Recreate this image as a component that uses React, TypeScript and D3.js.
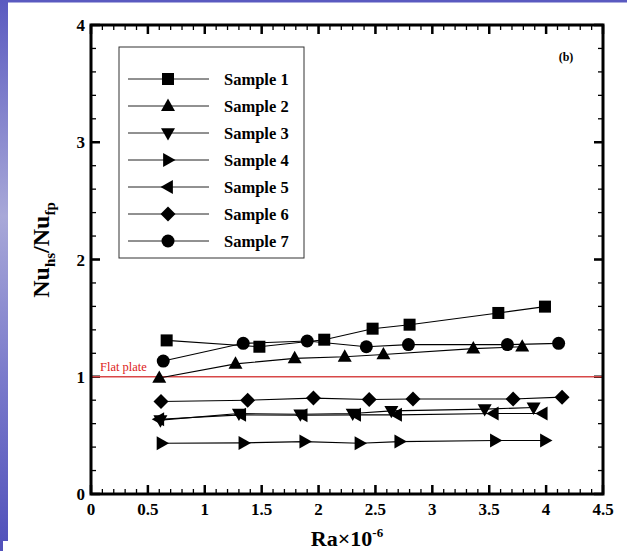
import React from "react";
import * as d3 from "d3";

const seriesNames = ["Sample 1", "Sample 2", "Sample 3", "Sample 4", "Sample 5", "Sample 6", "Sample 7"];
const markerKinds = ["square", "up", "down", "right", "left", "diamond", "circle"];

const s1x = [0.665, 1.48, 2.05, 2.475, 2.8, 3.58, 3.99];
const s1y = [1.31, 1.256, 1.316, 1.41, 1.444, 1.544, 1.598];
const s2x = [0.6, 1.27, 1.79, 2.23, 2.57, 3.36, 3.79];
const s2y = [0.99, 1.11, 1.157, 1.17, 1.19, 1.24, 1.256];
const s3x = [0.61, 1.3, 1.84, 2.3, 2.64, 3.46, 3.89];
const s3y = [0.63, 0.686, 0.68, 0.686, 0.709, 0.724, 0.738];
const s4x = [0.62, 1.34, 1.875, 2.36, 2.71, 3.55, 3.99];
const s4y = [0.433, 0.436, 0.447, 0.433, 0.447, 0.456, 0.456];
const s5x = [0.6, 1.32, 1.86, 2.33, 2.69, 3.54, 3.97];
const s5y = [0.638, 0.675, 0.672, 0.675, 0.675, 0.686, 0.686];
const s6x = [0.615, 1.377, 1.955, 2.445, 2.83, 3.71, 4.14];
const s6y = [0.789, 0.8, 0.818, 0.806, 0.81, 0.81, 0.826];
const s7x = [0.635, 1.338, 1.9, 2.42, 2.79, 3.66, 4.11];
const s7y = [1.134, 1.285, 1.305, 1.256, 1.274, 1.274, 1.285];

const seriesX = [s1x, s2x, s3x, s4x, s5x, s6x, s7x];
const seriesY = [s1y, s2y, s3y, s4y, s5y, s6y, s7y];

const xTicks = [0, 0.5, 1, 1.5, 2, 2.5, 3, 3.5, 4, 4.5];
const xTickLabels = ["0", "0.5", "1", "1.5", "2", "2.5", "3", "3.5", "4", "4.5"];
const yTicks = [0, 1, 2, 3, 4];
const yTickLabels = ["0", "1", "2", "3", "4"];
const flatPlateValue = 1;

const W = 627, H = 551;
const L = 91, R = 603, T = 25, B = 494;
const FONT = "'Liberation Serif', 'Times New Roman', serif";

function Marker({ kind, x, y }: { kind: string; x: number; y: number }) {
  const s = 6.5;
  if (kind === "square") return <rect x={x - 6} y={y - 6} width={12} height={12} fill="#000" />;
  if (kind === "circle") return <circle cx={x} cy={y} r={6.5} fill="#000" />;
  if (kind === "diamond")
    return <path d={`M${x},${y - 7.5}L${x + 7.5},${y}L${x},${y + 7.5}L${x - 7.5},${y}Z`} fill="#000" />;
  let pts = "";
  if (kind === "up") pts = `${x},${y - s - 1} ${x + s + 0.5},${y + s * 0.75} ${x - s - 0.5},${y + s * 0.75}`;
  if (kind === "down") pts = `${x},${y + s + 1} ${x + s + 0.5},${y - s * 0.75} ${x - s - 0.5},${y - s * 0.75}`;
  if (kind === "right") pts = `${x + s + 1},${y} ${x - s * 0.75},${y - s - 0.5} ${x - s * 0.75},${y + s + 0.5}`;
  if (kind === "left") pts = `${x - s - 1},${y} ${x + s * 0.75},${y - s - 0.5} ${x + s * 0.75},${y + s + 0.5}`;
  return <polygon points={pts} fill="#000" />;
}

export default function App() {
  const x = d3.scaleLinear().domain([0, 4.5]).range([L, R]);
  const y = d3.scaleLinear().domain([0, 4]).range([B, T]);
  const line = d3.line<number[]>().x((d) => x(d[0])).y((d) => y(d[1]));

  const xMinor = d3.range(0, 45.01, 1).map((v) => v / 10);
  const yMinor = d3.range(0, 20.01, 1).map((v) => v / 5);

  const legX0 = 119, legY0 = 47, legX1 = 304, legY1 = 258;
  const legRow0 = 79, legStep = 27;

  return (
    <svg width={W} height={H} style={{ position: "absolute", left: 0, top: 0 }}>
      <defs>
        <linearGradient id="band" x1="0" y1="0" x2="0" y2="1">
          <stop offset="0" stopColor="#5a5ac0" />
          <stop offset="0.4" stopColor="#a8a8d8" />
          <stop offset="0.7" stopColor="#7a7acb" />
          <stop offset="1" stopColor="#5252bb" />
        </linearGradient>
      </defs>
      <rect x={0} y={0} width={W} height={H} fill="#fff" />
      <rect x={0} y={0} width={W} height={2.5} fill="#5a5ac0" />
      <rect x={0} y={0} width={8} height={541} fill="url(#band)" />
      <rect x={0} y={541} width={3} height={10} fill="#5252bb" />

      {/* minor ticks */}
      {xMinor.map((v, i) => (
        <g key={"xm" + i} stroke="#000" strokeWidth={1.3}>
          <line x1={x(v)} x2={x(v)} y1={B} y2={B - (i % 5 === 0 ? 9 : 5)} />
          <line x1={x(v)} x2={x(v)} y1={T} y2={T + (i % 5 === 0 ? 9 : 5)} />
        </g>
      ))}
      {yMinor.map((v, i) => (
        <g key={"ym" + i} stroke="#000" strokeWidth={1.3}>
          <line y1={y(v)} y2={y(v)} x1={L} x2={L + (i % 5 === 0 ? 9 : 5)} />
          <line y1={y(v)} y2={y(v)} x1={R} x2={R - (i % 5 === 0 ? 9 : 5)} />
        </g>
      ))}
      {xTicks.map((v) => (
        <g key={"xM" + v} stroke="#000" strokeWidth={2.5}>
          <line x1={x(v)} x2={x(v)} y1={B} y2={B - 9} />
          <line x1={x(v)} x2={x(v)} y1={T} y2={T + 9} />
        </g>
      ))}
      {yTicks.map((v) => (
        <g key={"yM" + v} stroke="#000" strokeWidth={2.5}>
          <line y1={y(v)} y2={y(v)} x1={L} x2={L + 9} />
          <line y1={y(v)} y2={y(v)} x1={R} x2={R - 9} />
        </g>
      ))}

      {/* flat plate */}
      <line x1={L} x2={R} y1={y(flatPlateValue)} y2={y(flatPlateValue)} stroke="#d84848" strokeWidth={1.3} />
      <text x={L + 9} y={y(flatPlateValue) - 6} fontFamily={FONT} fontSize={12.5} fill="#dd2222">
        Flat plate
      </text>

      {/* series */}
      {seriesNames.map((name, si) => {
        const pts = seriesX[si].map((vx, k) => [vx, seriesY[si][k]]);
        return (
          <g key={name}>
            <path d={line(pts) || ""} fill="none" stroke="#000" strokeWidth={1.1} />
            {pts.map((p, k) => (
              <Marker key={k} kind={markerKinds[si]} x={x(p[0])} y={y(p[1])} />
            ))}
          </g>
        );
      })}

      {/* frame */}
      <rect x={L} y={T} width={R - L} height={B - T} fill="none" stroke="#000" strokeWidth={3} />

      {/* tick labels */}
      {xTicks.map((v, i) => (
        <text key={"xl" + v} x={x(v)} y={B + 21} textAnchor="middle" fontFamily={FONT} fontWeight="bold" fontSize={17}>
          {xTickLabels[i]}
        </text>
      ))}
      {yTicks.map((v, i) => (
        <text key={"yl" + v} x={L - 6} y={y(v) + 6} textAnchor="end" fontFamily={FONT} fontWeight="bold" fontSize={17}>
          {yTickLabels[i]}
        </text>
      ))}

      {/* axis titles */}
      <text x={347} y={546} textAnchor="middle" fontFamily={FONT} fontWeight="bold" fontSize={22}>
        Ra×10<tspan dy={-9} fontSize={13}>-6</tspan>
      </text>
      <text transform="translate(49,250) rotate(-90)" textAnchor="middle" fontFamily={FONT} fontWeight="bold" fontSize={24}>
        Nu<tspan dy={6} fontSize={15}>hs</tspan>
        <tspan dy={-6}>/Nu</tspan>
        <tspan dy={6} fontSize={15}>fp</tspan>
      </text>

      {/* (b) */}
      <text x={566} y={61} textAnchor="middle" fontFamily={FONT} fontWeight="bold" fontSize={12}>
        (b)
      </text>

      {/* legend */}
      <rect x={legX0} y={legY0} width={legX1 - legX0} height={legY1 - legY0} fill="#fff" stroke="#333" strokeWidth={1} />
      {seriesNames.map((name, i) => {
        const ry = legRow0 + i * legStep;
        return (
          <g key={"lg" + name}>
            <line x1={128} x2={209} y1={ry} y2={ry} stroke="#222" strokeWidth={1} />
            <Marker kind={markerKinds[i]} x={168} y={ry} />
            <text x={224} y={ry + 5.5} fontFamily={FONT} fontWeight="bold" fontSize={16.5}>
              {name}
            </text>
          </g>
        );
      })}
    </svg>
  );
}
